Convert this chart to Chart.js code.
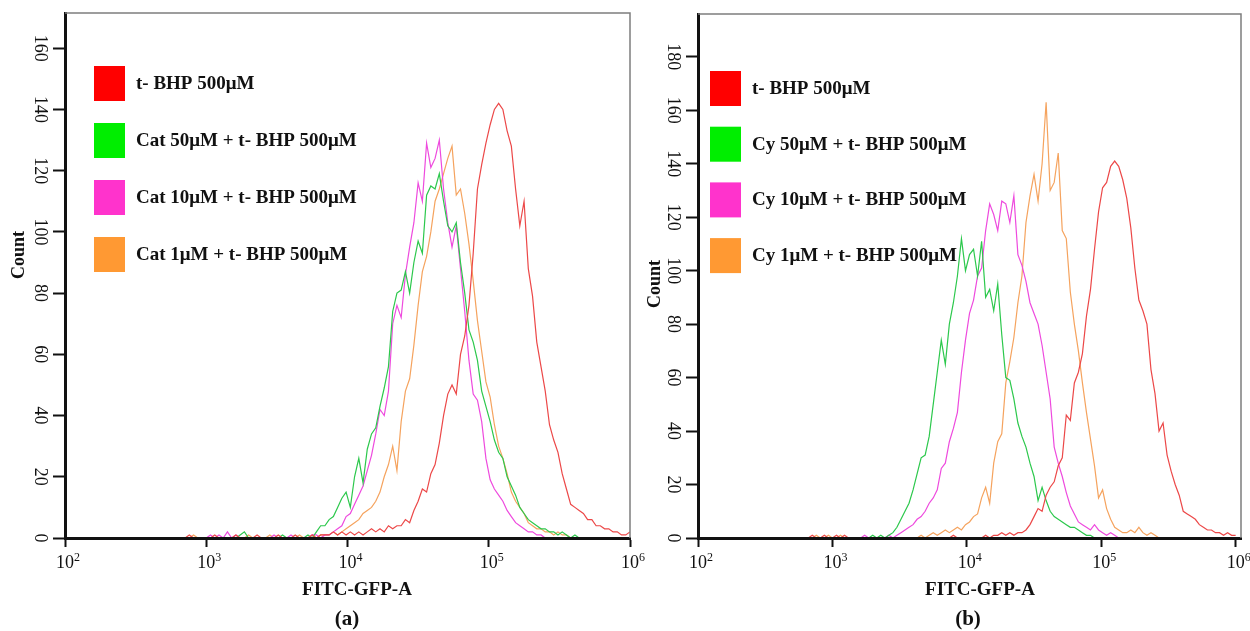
<!DOCTYPE html>
<html>
<head>
<meta charset="utf-8">
<title>FITC-GFP-A histograms</title>
<script src="https://cdn.jsdelivr.net/npm/chart.js@4/dist/chart.umd.min.js"></script>
<style>
  html, body { margin: 0; padding: 0; background: #fff; }
  #wrap { position: relative; width: 1250px; height: 631px; }
  canvas { position: absolute; top: 0; }
  #chartA { left: 0; }
  #chartB { left: 640px; }
</style>
</head>
<body>
<div id="wrap">
  <canvas id="chartA" width="660" height="631"></canvas>
  <canvas id="chartB" width="610" height="631"></canvas>
</div>
<script>
// histogram channels (log10 of FITC-GFP-A), same binning in both panels
const binLog = [
  2.82,2.85,2.88,2.91,2.94,2.97,3.00,3.03,3.06,3.09,
  3.12,3.15,3.18,3.21,3.24,3.27,3.30,3.33,3.36,3.39,
  3.42,3.45,3.48,3.51,3.54,3.57,3.60,3.63,3.66,3.69,
  3.72,3.75,3.78,3.81,3.84,3.87,3.90,3.93,3.96,3.99,
  4.02,4.05,4.08,4.11,4.14,4.17,4.20,4.23,4.26,4.29,
  4.32,4.35,4.38,4.41,4.44,4.47,4.50,4.53,4.56,4.59,
  4.62,4.65,4.68,4.71,4.74,4.77,4.80,4.83,4.86,4.89,
  4.92,4.95,4.98,5.01,5.04,5.07,5.10,5.13,5.16,5.19,
  5.22,5.25,5.28,5.31,5.34,5.37,5.40,5.43,5.46,5.49,
  5.52,5.55,5.58,5.61,5.64,5.67,5.70,5.73,5.76,5.79,
  5.82,5.85,5.88,5.91,5.94,5.97,6.00
];

const labelsA = ['t- BHP 500μM', 'Cat 50μM + t- BHP 500μM', 'Cat 10μM + t- BHP 500μM', 'Cat 1μM + t- BHP 500μM'];
const labelsB = ['t- BHP 500μM', 'Cy 50μM + t- BHP 500μM', 'Cy 10μM + t- BHP 500μM', 'Cy 1μM + t- BHP 500μM'];

// panel (a) counts
const tbhpA = [
  0,0,1,0,0,0,0,0,1,0, 0,0,0,1,0,0,0,0,1,0, 0,0,0,1,0,0,0,1,0,0,
  0,1,0,1,1,1,2,1,2,1, 2,1,2,1,2,3,2,3,2,4, 3,4,4,6,5,9,12,16,15,21,
  24,31,40,47,50,47,60,66,76,93, 114,122,129,135,140,142,140,133,128,114,
  102,110,88,79,64,56,48,37,32,28, 21,16,11,10,9,8,6,6,4,4, 3,3,2,2,1,1,2
];
const cat50 = [
  0,0,0,0,0,0,0,0,0,0, 0,0,0,0,1,2,0,0,0,0, 0,0,0,0,1,0,0,0,0,0,
  1,0,2,4,4,6,7,10,13,15, 10,20,26,18,29,34,36,43,49,56, 74,80,81,87,80,90,97,93,112,115,
  114,119,110,102,100,103,90,80,68,64, 58,48,43,38,32,28,26,20,17,14,
  10,8,6,5,4,3,3,2,2,1, 2,1,0,1,0,0,0,0,0,0, 0,0,0,0,0,0,0
];
const cat10 = [
  0,0,0,0,0,0,0,1,0,1, 0,2,0,1,0,0,0,0,0,0, 0,0,1,0,0,0,1,0,0,0,
  0,1,1,0,1,1,2,3,4,7, 8,11,14,17,22,27,34,42,40,48, 70,76,72,86,95,103,116,110,129,121,
  124,130,114,103,95,102,88,74,58,47, 45,38,26,19,16,14,12,9,7,5,
  4,3,2,2,1,1,0,0,0,0, 0,0,0,0,0,0,0,0,0,0, 0,0,0,0,0,0,0
];
const cat1 = [
  0,0,0,1,0,0,0,0,0,0, 0,0,0,0,0,0,1,0,0,0, 0,1,0,0,0,0,0,0,1,0,
  0,1,0,1,1,1,2,1,2,3, 4,5,6,8,9,10,12,15,20,24, 30,22,38,48,52,63,76,87,92,100,
  110,114,119,124,128,112,114,106,96,84, 71,61,51,46,37,30,26,21,15,12,
  10,8,5,4,3,3,2,2,1,2, 1,1,0,0,0,0,0,0,0,0, 0,0,0,0,0,0,0
];

// panel (b) counts
const tbhpB = [
  0,1,0,0,1,0,0,1,0,1, 0,0,0,0,0,0,0,0,0,0, 0,0,0,0,0,0,0,0,0,0,
  0,0,0,0,0,0,1,0,0,0, 0,0,0,0,1,0,1,1,2,1, 2,1,2,2,3,5,8,11,10,16,
  19,21,27,30,46,44,58,62,69,83, 93,108,122,131,133,139,141,139,134,127,
  116,101,89,85,80,63,54,40,43,31, 25,20,16,10,9,8,7,5,4,3, 3,2,2,1,2,1,1
];
const cy50 = [
  0,0,0,0,0,0,0,0,0,0, 0,0,0,0,0,0,1,0,1,0, 1,2,4,7,10,13,18,24,30,31,
  38,50,62,74,65,80,88,98,112,100, 106,108,98,111,90,93,85,95,76,60, 59,52,43,38,34,28,23,14,19,14,
  10,8,7,6,5,4,4,3,2,1, 1,0,0,0,0,0,0,0,0,0,
  0,0,0,0,0,0,0,0,0,0, 0,0,0,0,0,0,0,0,0,0, 0,0,0,0,0,0,0
];
const cy10 = [
  0,0,0,0,0,0,0,0,0,0, 0,0,0,0,1,0,0,0,0,0, 1,0,1,2,3,4,5,7,8,10,
  13,15,18,26,28,36,41,47,62,74, 84,89,98,101,115,125,121,115,126,125, 118,128,106,102,96,88,84,80,72,62,
  52,34,28,23,17,12,9,6,5,4, 3,5,3,2,1,2,1,0,0,0,
  0,0,0,0,0,0,0,0,0,0, 0,0,0,0,0,0,0,0,0,0, 0,0,0,0,0,0,0
];
const cy1 = [
  0,0,1,0,0,1,0,0,1,0, 0,0,0,0,0,0,0,0,0,0, 0,0,0,0,0,0,0,0,1,0,
  1,2,1,2,3,2,3,4,3,5, 6,8,9,15,19,13,28,36,39,58, 66,75,88,98,118,128,136,126,140,163,
  130,133,144,115,112,92,80,70,58,47, 37,27,15,18,11,7,4,3,2,2,
  3,2,4,2,1,2,1,0,0,0, 0,0,0,0,0,0,0,0,0,0, 0,0,0,0,0,0,0
];

const xTicks = [1e2, 1e3, 1e4, 1e5, 1e6];
const yTicksA = [0, 20, 40, 60, 80, 100, 120, 140, 160];
const yTicksB = [0, 20, 40, 60, 80, 100, 120, 140, 160, 180];

const lineColors = ['#ec4848', '#2cc84c', '#ee4ade', '#f5a35e'];
const swatchColors = ['#ff0000', '#00ee00', '#ff33cc', '#ff9933'];

const serif = '"Liberation Serif", "Times New Roman", serif';

// frame, rotated tick labels, titles and the boxed legend
const flowDecor = {
  id: 'flowDecor',
  afterDraw(chart, args, o) {
    const ctx = chart.ctx, a = chart.chartArea;
    const xs = chart.scales.x, ys = chart.scales.y;
    ctx.save();

    ctx.strokeStyle = '#7d7d7d';
    ctx.lineWidth = 1.5;
    ctx.beginPath();
    ctx.moveTo(a.left, a.top);
    ctx.lineTo(a.right, a.top);
    ctx.lineTo(a.right, a.bottom);
    ctx.stroke();

    ctx.fillStyle = '#111';

    // count ticks, turned clockwise
    ctx.font = '18px ' + serif;
    ctx.textAlign = 'center';
    ctx.textBaseline = 'middle';
    ys.ticks.forEach(t => {
      ctx.save();
      ctx.translate(a.left - 25, ys.getPixelForValue(t.value));
      ctx.rotate(Math.PI / 2);
      ctx.fillText(String(t.value), 0, 0);
      ctx.restore();
    });

    // decades as 10^n
    ctx.textAlign = 'left';
    ctx.textBaseline = 'alphabetic';
    xs.ticks.forEach(t => {
      const exp = String(Math.round(Math.log10(t.value)));
      ctx.font = '18px ' + serif;
      const wb = ctx.measureText('10').width;
      ctx.font = '12px ' + serif;
      const we = ctx.measureText(exp).width;
      const x0 = xs.getPixelForValue(t.value) - (wb + we) / 2 + 3;
      ctx.font = '18px ' + serif;
      ctx.fillText('10', x0, a.bottom + 30);
      ctx.font = '12px ' + serif;
      ctx.fillText(exp, x0 + wb, a.bottom + 23);
    });

    ctx.textAlign = 'center';
    ctx.textBaseline = 'middle';
    ctx.font = 'bold 18px ' + serif;
    ctx.save();
    ctx.translate(o.countX, o.countY);
    ctx.rotate(-Math.PI / 2);
    ctx.fillText('Count', 0, 0);
    ctx.restore();

    ctx.font = 'bold 19px ' + serif;
    ctx.fillText('FITC-GFP-A', o.titleX, a.bottom + 52);
    ctx.font = 'bold 21px ' + serif;
    ctx.fillText(o.tag, o.tagX, a.bottom + 82);

    // legend
    ctx.textAlign = 'left';
    ctx.font = 'bold 19px ' + serif;
    chart.data.datasets.forEach((ds, i) => {
      const top = o.legendY + i * o.legendStep;
      ctx.fillStyle = swatchColors[i];
      ctx.fillRect(o.legendX, top, 31, 35);
      ctx.fillStyle = '#111';
      ctx.fillText(ds.label, o.legendX + 42, top + 18);
    });

    ctx.restore();
  }
};

function seriesSet(labels, counts) {
  return labels.map((lab, i) => ({
    label: lab,
    data: binLog.map((b, k) => ({ x: Math.pow(10, b), y: counts[i][k] })),
    borderColor: lineColors[i],
    borderWidth: 1.2,
    pointRadius: 0,
    fill: false,
    tension: 0
  }));
}

function makeChart(id, labels, counts, yMax, yTicks, xMax, pad, decor) {
  return new Chart(document.getElementById(id), {
    type: 'line',
    data: { datasets: seriesSet(labels, counts) },
    options: {
      responsive: false,
      animation: false,
      events: [],
      layout: { padding: pad },
      plugins: { legend: { display: false }, tooltip: { enabled: false }, flowDecor: decor },
      scales: {
        x: {
          type: 'logarithmic', min: 100, max: xMax,
          ticks: { display: false },
          grid: { drawOnChartArea: false, tickLength: 9, tickWidth: 2, tickColor: '#111' },
          border: { color: '#111', width: 3, z: 1 },
          afterBuildTicks: s => { s.ticks = xTicks.map(v => ({ value: v })); },
          afterFit: s => { s.height = 0; }
        },
        y: {
          type: 'linear', min: 0, max: yMax,
          ticks: { display: false },
          grid: { drawOnChartArea: false, tickLength: 12, tickWidth: 2, tickColor: '#111' },
          border: { color: '#111', width: 3, z: 1 },
          afterBuildTicks: s => { s.ticks = yTicks.map(v => ({ value: v })); },
          afterFit: s => { s.width = 0; }
        }
      }
    },
    plugins: [flowDecor]
  });
}

makeChart('chartA', labelsA, [tbhpA, cat50, cat10, cat1], 171.5, yTicksA, 1e6,
  { left: 65, top: 13, right: 30, bottom: 93 },
  { countX: 19, countY: 255, titleX: 357, tagX: 347, tag: '(a)', legendX: 94, legendY: 66, legendStep: 57 });

makeChart('chartB', labelsB, [tbhpB, cy50, cy10, cy1], 196, yTicksB, 1.096e6,
  { left: 58, top: 14, right: 9, bottom: 93 },
  { countX: 15, countY: 284, titleX: 340, tagX: 328, tag: '(b)', legendX: 70, legendY: 71, legendStep: 55.7 });
</script>
</body>
</html>
